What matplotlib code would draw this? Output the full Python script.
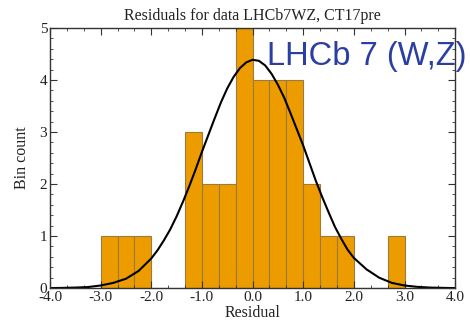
import numpy as np
import matplotlib
matplotlib.use('Agg')
import matplotlib.pyplot as plt
from matplotlib.ticker import MultipleLocator, FormatStrFormatter

# histogram bins (width 1/3) and counts
bin_edges = [-3.0, -8/3, -7/3, -2.0, -5/3, -4/3, -1.0, -2/3, -1/3, 0.0,
             1/3, 2/3, 1.0, 4/3, 5/3, 2.0, 7/3, 8/3, 3.0]
bin_counts = [1, 1, 1, 0, 0, 3, 2, 2, 5, 4, 4, 4, 2, 1, 1, 0, 0, 1]

# gaussian curve points
curve_x = [-4.0, -3.75, -3.5, -3.25, -3.0, -2.75, -2.5, -2.25, -2.0, -1.875,
           -1.75, -1.625, -1.5, -1.375, -1.25, -1.125, -1.0, -0.875, -0.75,
           -0.625, -0.5, -0.375, -0.25, -0.125, 0.0, 0.125, 0.25, 0.375, 0.5,
           0.625, 0.75, 0.875, 1.0, 1.125, 1.25, 1.375, 1.5, 1.625, 1.75,
           1.875, 2.0, 2.25, 2.5, 2.75, 3.0, 3.25, 3.5, 3.75, 4.0]
curve_y = [0.0, 0.004, 0.01, 0.02, 0.05, 0.1, 0.18, 0.33, 0.57, 0.73,
           0.92, 1.13, 1.38, 1.66, 1.96, 2.28, 2.62, 2.94, 3.26,
           3.57, 3.84, 4.06, 4.23, 4.34, 4.39, 4.37, 4.28, 4.12, 3.91,
           3.66, 3.36, 3.05, 2.74, 2.40, 2.06, 1.75, 1.46, 1.18, 0.95,
           0.74, 0.58, 0.36, 0.2, 0.1, 0.05, 0.024, 0.01, 0.004, 0.0]

title = 'Residuals for data LHCb7WZ, CT17pre'
label_txt = 'LHCb 7 (W,Z)'

plt.rcParams['font.family'] = ['Liberation Serif', 'DejaVu Serif']

fig = plt.figure(figsize=(4.7, 3.3), dpi=100)
ax = fig.add_axes([0.1064, 0.127, 0.862, 0.788])

lefts = np.array(bin_edges[:-1])
widths = np.diff(bin_edges)
ax.bar(lefts, bin_counts, width=widths, align='edge', color='#ED9C00',
       edgecolor='#9c7a3c', linewidth=0.8)
ax.plot(curve_x, curve_y, color='black', linewidth=1.5)

ax.set_xlim(-4, 4)
ax.set_ylim(0, 5)
ax.xaxis.set_major_locator(MultipleLocator(1.0))
ax.xaxis.set_minor_locator(MultipleLocator(1/3))
ax.yaxis.set_major_locator(MultipleLocator(1))
ax.yaxis.set_minor_locator(MultipleLocator(0.2))
ax.xaxis.set_major_formatter(FormatStrFormatter('%.1f'))
ax.tick_params(which='both', direction='in', top=True, right=True,
               labelsize=11, colors='#333333', labelcolor='#222222')
ax.tick_params(which='major', length=5, pad=2)
ax.tick_params(which='minor', length=2.5)
for s in ax.spines.values():
    s.set_color('#333333')
    s.set_linewidth(1.0)

ax.set_title(title, fontsize=11.5, pad=6, color='#222222')
ax.set_xlabel('Residual', fontsize=11.5, labelpad=1, color='#222222')
ax.set_ylabel('Bin count', fontsize=11.5, labelpad=7, color='#222222')

ax.text(0.536, 0.858, label_txt, transform=ax.transAxes, fontsize=23.5,
        family='Liberation Sans', color='#2b3fa3', va='baseline', ha='left',
        clip_on=False)

fig.savefig('out.png', dpi=100)
